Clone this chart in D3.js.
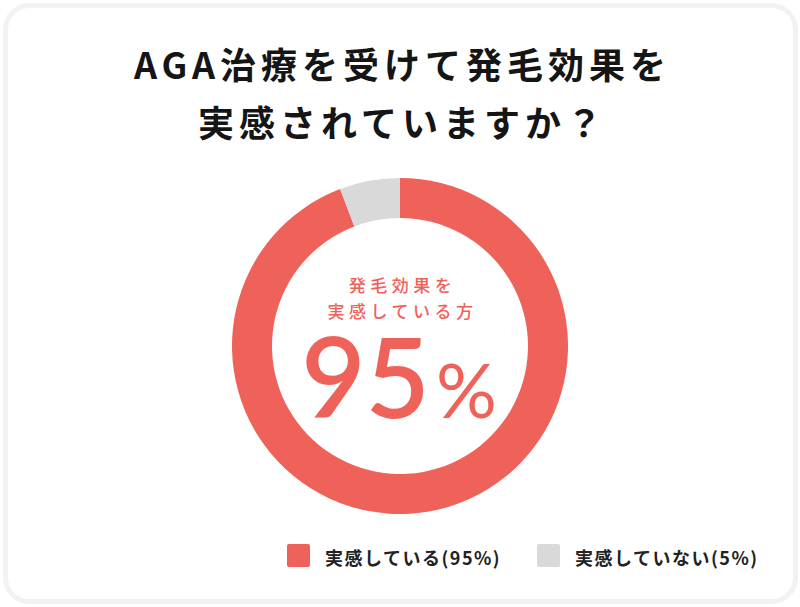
<!DOCTYPE html>
<html>
<head>
<meta charset="utf-8">
<script src="https://cdn.jsdelivr.net/npm/d3@7"></script>
<style>
  html, body { margin: 0; padding: 0; background: #fff; }
  svg { display: block; font-family: "Noto Sans CJK JP", "Noto Sans", sans-serif; }
</style>
</head>
<body>
<div id="chart"></div>
<script>
// Data
var categories = ["実感している", "実感していない"];
var shares = [94.2, 5.8];            // arc sizes
var legendLabels = ["実感している(95%)", "実感していない(5%)"];
var titleLines = ["AGA治療を受けて発毛効果を", "実感されていますか？"];
var centerLines = ["発毛効果を", "実感している方"];
var centerValue = "95";
var centerUnit = "%";

// SVG Object Dimensions
var svgWidth = 800;
var svgHeight = 607;

var svg = d3.select("#chart")
  .append("svg")
  .attr("width", svgWidth)
  .attr("height", svgHeight);

// Card
svg.append("rect")
  .attr("x", 5.5)
  .attr("y", 5.5)
  .attr("width", 790)
  .attr("height", 596)
  .attr("rx", 24)
  .attr("fill", "#fff")
  .attr("stroke", "#f2f2f2")
  .attr("stroke-width", 5);

// Title
var titleSpacing = 5;
svg.append("g").selectAll("text")
  .data(titleLines)
  .enter()
  .append("text")
  .attr("x", 400 + titleSpacing / 2)
  .attr("y", (d, i) => 79 + i * 58)
  .attr("text-anchor", "middle")
  .attr("font-size", "36px")
  .attr("font-weight", 700)
  .attr("letter-spacing", titleSpacing + "px")
  .attr("fill", "#151515")
  .text(d => d);

var color = d3.scaleOrdinal()
  .domain(categories)
  .range(["#ee625a", "#d9d9d9"]);

var pie = d3.pie().sort(null).value(d => d.value);
var arc = d3.arc().innerRadius(128).outerRadius(168);

var pieData = pie(categories.map((c, i) => ({ name: c, value: shares[i] })));

var donut = svg.append("g")
  .attr("transform", "translate(400, 346)");

donut.selectAll("path")
  .data(pieData)
  .enter()
  .append("path")
  .attr("d", arc)
  .attr("fill", d => color(d.data.name));

// Center label
donut.selectAll(".centerLine")
  .data(centerLines)
  .enter()
  .append("text")
  .attr("class", "centerLine")
  .attr("x", 2.5)
  .attr("y", (d, i) => -54 + i * 26)
  .attr("text-anchor", "middle")
  .attr("font-size", "17px")
  .attr("font-weight", 500)
  .attr("letter-spacing", "4.5px")
  .attr("fill", "#ee625a")
  .text(d => d);

var big = donut.append("text")
  .attr("x", -1)
  .attr("y", 72)
  .attr("text-anchor", "middle")
  .attr("fill", "#ee625a")
  .attr("font-family", "Lato, sans-serif");

big.append("tspan")
  .attr("font-size", "111px")
  .attr("font-weight", 600)
  .attr("letter-spacing", "0px")
  .text(centerValue);

big.append("tspan")
  .attr("dx", 6)
  .attr("font-size", "76px")
  .attr("font-weight", 400)
  .text(centerUnit);

// Legend
var legendX = [287, 537];
var legend = svg.append("g").selectAll("g")
  .data(categories)
  .enter()
  .append("g")
  .attr("transform", (d, i) => `translate(${legendX[i]}, 544)`);

legend.append("rect")
  .attr("width", 23)
  .attr("height", 23)
  .attr("rx", 2)
  .attr("fill", d => color(d));

legend.append("text")
  .attr("x", 38)
  .attr("y", 21)
  .attr("font-size", "18px")
  .attr("font-weight", 700)
  .attr("letter-spacing", "1.5px")
  .attr("fill", "#222")
  .text((d, i) => legendLabels[i]);
</script>
</body>
</html>
